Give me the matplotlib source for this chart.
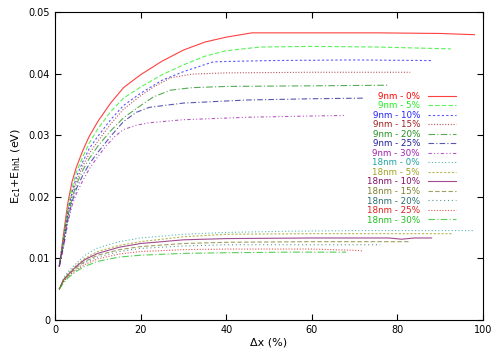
import matplotlib
matplotlib.use('Agg')
import matplotlib.pyplot as plt

# 9nm wells (upper bundle)
x_9_0 = [1, 2, 3, 4, 5, 6.5, 8, 10, 13, 16, 20, 25, 30, 35, 40, 46, 60, 75, 90, 98]
y_9_0 = [0.0087, 0.014, 0.019, 0.0225, 0.0248, 0.0275, 0.0298, 0.0322, 0.0352, 0.0377,
         0.0398, 0.042, 0.0438, 0.0451, 0.0459, 0.0466, 0.0466, 0.0466, 0.0465, 0.0463]
x_9_5 = [1, 2, 3, 4, 5, 6.5, 8, 10, 13, 16, 20, 25, 30, 35, 40, 48, 60, 75, 92.5]
y_9_5 = [0.0087, 0.0135, 0.0182, 0.0215, 0.024, 0.0265, 0.0287, 0.031, 0.0338, 0.036,
         0.0378, 0.0398, 0.0414, 0.0428, 0.0437, 0.0443, 0.0444, 0.0443, 0.044]
x_9_10 = [1, 2, 3, 4, 5, 6.5, 8, 10, 13, 16, 20, 25, 30, 37, 50, 70, 88]
y_9_10 = [0.0087, 0.013, 0.0176, 0.0208, 0.0232, 0.0257, 0.0278, 0.0298, 0.0325, 0.0348,
          0.0368, 0.0389, 0.0403, 0.0419, 0.0421, 0.0422, 0.0421]
x_9_15 = [1, 2, 3, 4, 5, 6.5, 8, 10, 13, 16, 20, 23, 27, 32, 40, 60, 83]
y_9_15 = [0.0087, 0.0127, 0.0172, 0.0203, 0.0226, 0.025, 0.027, 0.029, 0.0318, 0.0342,
          0.0364, 0.0378, 0.0393, 0.0399, 0.0401, 0.0402, 0.0402]
x_9_20 = [1, 2, 3, 4, 5, 6.5, 8, 10, 13, 16, 20, 23, 27, 32, 40, 60, 78]
y_9_20 = [0.0087, 0.0124, 0.0168, 0.0198, 0.022, 0.0243, 0.0262, 0.0282, 0.0307, 0.0328,
          0.0348, 0.0362, 0.0373, 0.0377, 0.0379, 0.038, 0.0381]
x_9_25 = [1, 2, 3, 4, 5, 6.5, 8, 10, 13, 16, 19, 22, 30, 45, 60, 72]
y_9_25 = [0.0087, 0.012, 0.0163, 0.0192, 0.0213, 0.0235, 0.0253, 0.0272, 0.0298, 0.0322,
          0.0337, 0.0345, 0.0352, 0.0357, 0.0359, 0.036]
x_9_30 = [1, 2, 3, 4, 5, 6.5, 8, 10, 12, 14, 16, 19, 22, 30, 45, 60, 68]
y_9_30 = [0.0087, 0.0118, 0.0158, 0.0186, 0.0205, 0.0226, 0.0245, 0.0265, 0.0283, 0.0298,
          0.0309, 0.0316, 0.032, 0.0325, 0.0329, 0.0331, 0.0332]

# 18nm wells (lower bundle)
x_18_0 = [1, 2, 3, 5, 7, 10, 15, 20, 30, 40, 55, 70, 85, 98]
y_18_0 = [0.005, 0.0068, 0.0078, 0.0092, 0.0105, 0.0117, 0.0127, 0.0133, 0.0139, 0.0142,
          0.0144, 0.0145, 0.0145, 0.0145]
x_18_5 = [1, 2, 3, 5, 7, 10, 15, 20, 30, 40, 60, 80, 93]
y_18_5 = [0.005, 0.0066, 0.0075, 0.0089, 0.01, 0.0111, 0.0121, 0.0127, 0.0135, 0.0139,
          0.014, 0.014, 0.014]
x_18_10 = [1, 2, 3, 5, 7, 10, 15, 20, 30, 40, 60, 78, 81, 84, 88]
y_18_10 = [0.005, 0.0065, 0.0073, 0.0087, 0.0098, 0.0108, 0.0118, 0.0124, 0.013, 0.0132,
           0.0133, 0.0133, 0.0131, 0.0133, 0.0133]
x_18_15 = [1, 2, 3, 5, 7, 10, 15, 20, 30, 40, 60, 83]
y_18_15 = [0.005, 0.0064, 0.0072, 0.0085, 0.0095, 0.0105, 0.0114, 0.0119, 0.0124, 0.0126,
           0.0127, 0.0127]
x_18_20 = [1, 2, 3, 5, 7, 10, 15, 20, 30, 40, 60, 76]
y_18_20 = [0.005, 0.0063, 0.0071, 0.0083, 0.0093, 0.0102, 0.0111, 0.0116, 0.012, 0.0122,
           0.0122, 0.0122]
x_18_25 = [1, 2, 3, 5, 7, 10, 15, 20, 30, 40, 60, 70, 72]
y_18_25 = [0.005, 0.0062, 0.007, 0.0081, 0.009, 0.0099, 0.0107, 0.0111, 0.0114, 0.0115,
           0.0115, 0.0113, 0.0112]
x_18_30 = [1, 2, 3, 5, 7, 10, 15, 20, 30, 40, 55, 68]
y_18_30 = [0.005, 0.006, 0.0068, 0.0079, 0.0087, 0.0095, 0.0102, 0.0105, 0.0108, 0.0109,
           0.011, 0.011]

labels = ['9nm - 0%', '9nm - 5%', '9nm - 10%', '9nm - 15%', '9nm - 20%', '9nm - 25%',
          '9nm - 30%', '18nm - 0%', '18nm - 5%', '18nm - 10%', '18nm - 15%',
          '18nm - 20%', '18nm - 25%', '18nm - 30%']
series = [(x_9_0, y_9_0), (x_9_5, y_9_5), (x_9_10, y_9_10), (x_9_15, y_9_15),
          (x_9_20, y_9_20), (x_9_25, y_9_25), (x_9_30, y_9_30),
          (x_18_0, y_18_0), (x_18_5, y_18_5), (x_18_10, y_18_10), (x_18_15, y_18_15),
          (x_18_20, y_18_20), (x_18_25, y_18_25), (x_18_30, y_18_30)]

colors = ['#ff0000', '#22ee22', '#2222ff', '#a02020', '#209020', '#202098', '#a020b0',
          '#20a0a0', '#a0a020', '#801068', '#808030', '#2a7070', '#e02020', '#20c020']
styles = ['-', (0, (4, 2)), (0, (2, 2)), (0, (1, 1.5)), (0, (6, 2, 1, 2)),
          (0, (5, 2, 1, 2)), (0, (3, 2, 1, 2, 1, 2)), (0, (1, 2)), (0, (2, 1.5)),
          '-', (0, (4, 2)), (0, (1, 2.5)), (0, (1, 1.5)), (0, (6, 2, 1, 2))]

fig = plt.figure(figsize=(5, 3.5), dpi=100)
ax = fig.add_axes([0.11, 0.086, 0.856, 0.88])

for (xs, ys), lab, c, ls in zip(series, labels, colors, styles):
    ax.plot(xs, ys, color=c, linestyle=ls, linewidth=0.8, alpha=0.75, label=lab)

ax.set_xlim(0, 100)
ax.set_ylim(0, 0.05)
ax.set_xticks([0, 20, 40, 60, 80, 100])
ax.set_yticks([0, 0.01, 0.02, 0.03, 0.04, 0.05])
ax.set_yticklabels(['0', '0.01', '0.02', '0.03', '0.04', '0.05'])
ax.tick_params(direction='in', top=True, right=True, labelsize=7, length=4, width=0.8)
ax.set_xlabel('Δx (%)', fontsize=8, labelpad=2)
ax.set_ylabel('E$_{\\mathrm{c1}}$+E$_{\\mathrm{hh1}}$ (eV)', fontsize=8, labelpad=4)

leg = ax.legend(loc='upper right', bbox_to_anchor=(0.947, 0.755), frameon=False,
                markerfirst=False, fontsize=6.3, labelcolor='linecolor',
                handlelength=3.2, handletextpad=0.9, labelspacing=0.06, borderpad=0)
for t in leg.get_texts():
    t.set_alpha(1)

fig.savefig('out.png', dpi=100)
